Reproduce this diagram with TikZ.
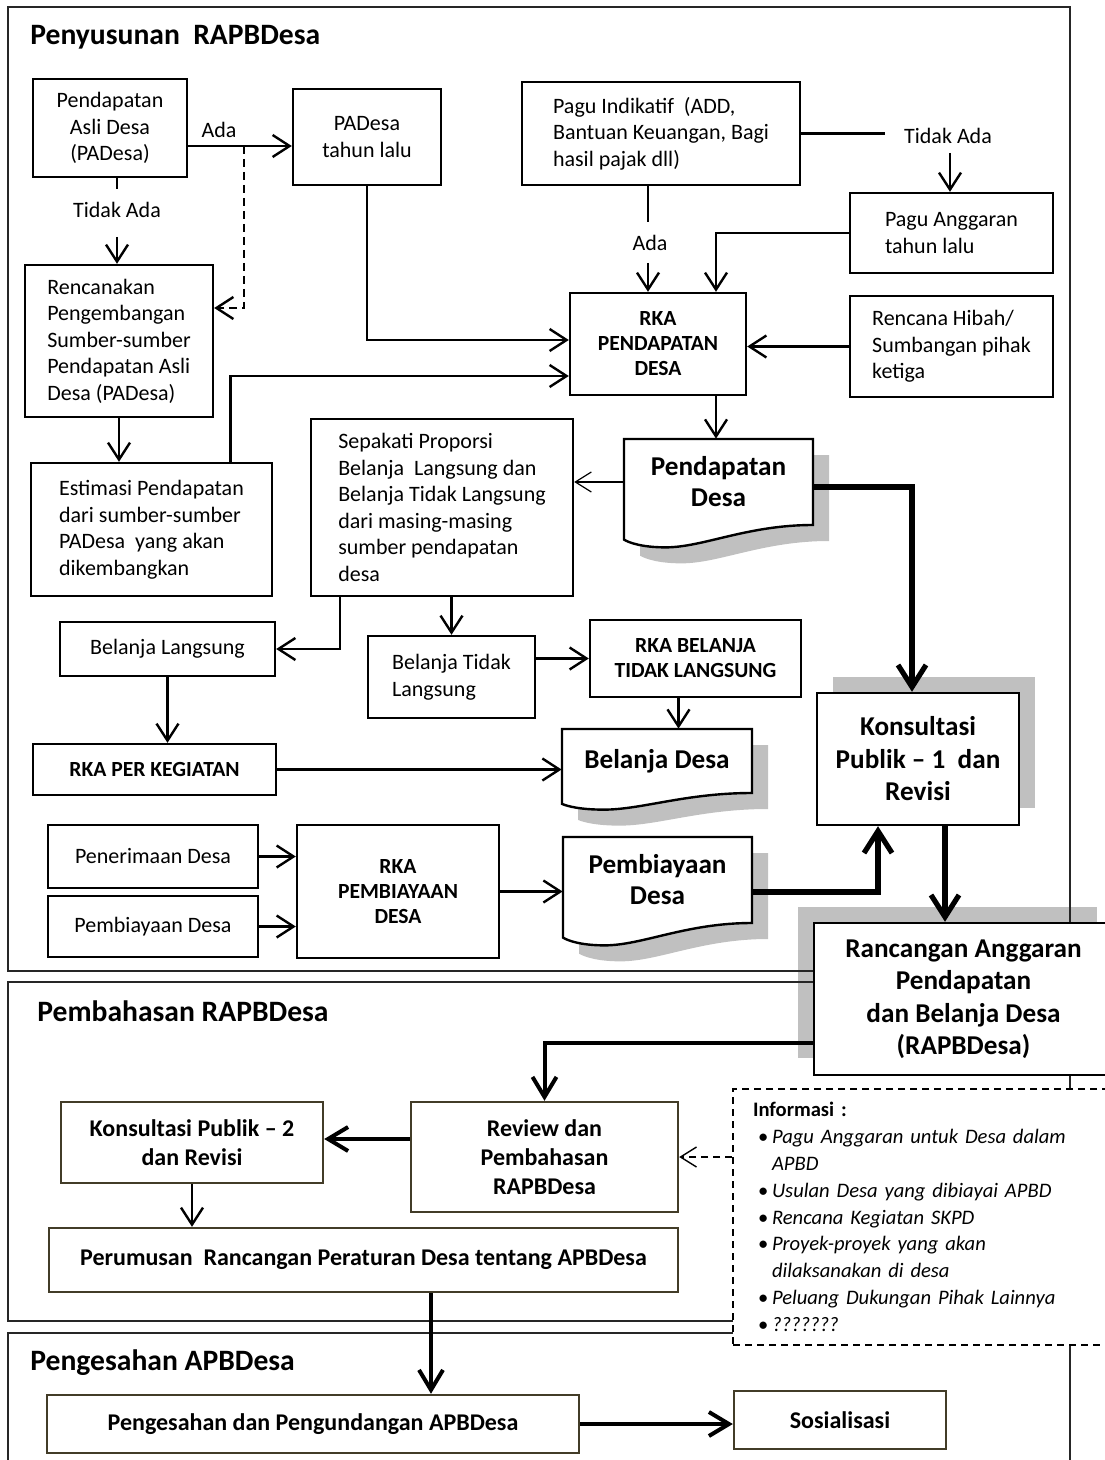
\documentclass[tikz,border=0pt]{standalone}
\usepackage{fontspec}
\setmainfont{Carlito}
\usetikzlibrary{arrows.meta}

\definecolor{shadowgray}{RGB}{192,192,192}
\definecolor{boxolive}{RGB}{66,60,40}

\newcommand\docshape[5]{%
  \path[#1] (#2,#3) -- (#4,#3) -- (#4,#5)
    .. controls ({#4-0.35*(#4-#2)},#5) and ({#2+0.42*(#4-#2)},{#5+0.26*(#5-#3)})
    .. ({#2+0.22*(#4-#2)},{#5+0.26*(#5-#3)})
    .. controls ({#2+0.1*(#4-#2)},{#5+0.26*(#5-#3)}) and ({#2+0.03*(#4-#2)},{#5+0.21*(#5-#3)})
    .. (#2,{#5+0.17*(#5-#3)}) -- cycle;}
\newcommand\infoitem[1]{\hspace*{2.5pt}\makebox[7pt][l]{\textbullet}\textit{#1}}
\newcommand\infomore[1]{\hspace*{9.5pt}\textit{#1}}

\begin{document}
\begin{tikzpicture}[x=0.5pt, y=-0.5pt,
    box/.style={draw, line width=1.2pt, fill=white, inner sep=3pt, align=center,
      font=\fontsize{11}{13.25}\selectfont},
    lbox/.style={box, align=left},
    rka/.style={box, font=\fontsize{10.8}{12.5}\selectfont\bfseries},
    big/.style={box, font=\fontsize{13.6}{16.25}\selectfont\bfseries},
    doc/.style={inner sep=3pt, align=center, font=\fontsize{13.6}{15.5}\selectfont\bfseries},
    stagebox/.style={box, draw=boxolive, font=\fontsize{12}{14.6}\selectfont\bfseries},
    infobox/.style={draw, fill=white, line width=0.8pt, dash pattern=on 3.5pt off 2.5pt,
      text width=175pt, inner xsep=10pt, inner ysep=3pt, minimum height=128pt, align=left,
      font=\fontsize{10.3}{13.4}\selectfont},
    title/.style={anchor=west, inner sep=0pt, font=\fontsize{14.8}{17}\selectfont\bfseries},
    lbl/.style={inner sep=0pt, font=\fontsize{11}{13}\selectfont},
    stage/.style={draw=black!85, line width=1.1pt},
    arr/.style={line width=1.2pt, -{Straight Barb[length=8.5pt,width=11pt]}},
    thinarr/.style={line width=0.6pt, -{Straight Barb[length=8pt,width=10pt]}},
    semi/.style={line width=2pt, -{Straight Barb[length=10pt,width=12pt]}},
    fat/.style={line width=2.6pt, -{Straight Barb[length=11pt,width=14pt]}},
    infoarr/.style={line width=0.7pt, dash pattern=on 3.5pt off 2.5pt, -{Straight Barb[length=8pt,width=10pt]}}
  ]
  \useasboundingbox (0,0) rectangle (1104,1460);

  \fill[shadowgray] (833,677) rectangle (1035,808);
  \fill[shadowgray] (798,907) rectangle (1097,1058);
  \docshape{fill=shadowgray}{640}{455}{829}{541}
  \docshape{fill=shadowgray}{578}{745}{768}{809}
  \docshape{fill=shadowgray}{579}{853}{768}{939}

  \draw[stage] (8,7) rectangle (1070,971);
  \draw[stage] (8,982) rectangle (1070,1321);
  \draw[stage] (8,1333) rectangle (1070,1490);

  \docshape{draw, line width=1.2pt, fill=white}{624}{439}{813}{525}
  \docshape{draw, line width=1.2pt, fill=white}{562}{729}{752}{793}
  \docshape{draw, line width=1.2pt, fill=white}{563}{837}{752}{923}

  \node[title] (t-susun) at (30,37) {Penyusunan\ \ RAPBDesa};
  \node[title] (t-bahas) at (37,1011) {Pembahasan RAPBDesa};
  \node[title] (t-sah) at (30,1363) {Pengesahan APBDesa};

  \node[box, minimum width=77pt, minimum height=49pt] (pad) at (110,128) {Pendapatan\\Asli Desa\\(PADesa)};
  \node[box, minimum width=74pt, minimum height=48pt] (padlalu) at (367,137) {PADesa\\tahun lalu};
  \node[lbox, minimum width=139pt, minimum height=51.5pt] (pagu) at (661,133.5) {Pagu Indikatif\ \ (ADD,\\Bantuan Keuangan, Bagi\\hasil pajak dll)};
  \node[lbox, minimum width=101.5pt, minimum height=40pt] (pagulalu) at (951.5,233) {Pagu Anggaran\\tahun lalu};
  \node[rka, minimum width=88pt, minimum height=51pt] (rkapend) at (658,344) {RKA\\PENDAPATAN\\DESA};
  \node[lbox, minimum width=101.5pt, minimum height=50.5pt] (hibah) at (951.5,346.5) {Rencana Hibah/\\Sumbangan pihak\\ketiga};
  \node[lbox, minimum width=94pt, minimum height=76pt] (rencana) at (119,341) {Rencanakan\\Pengembangan\\Sumber-sumber\\Pendapatan Asli\\Desa (PADesa)};
  \node[lbox, minimum width=120.5pt, minimum height=66.5pt] (estimasi) at (151.5,529.5) {Estimasi Pendapatan\\dari sumber-sumber\\PADesa\ \ yang akan\\dikembangkan};
  \node[lbox, minimum width=131pt, minimum height=88.5pt] (sepakati) at (442,507.5) {Sepakati Proporsi\\Belanja\ \ Langsung dan\\Belanja Tidak Langsung\\dari masing-masing\\sumber pendapatan\\desa};
  \node[doc, minimum width=94.5pt, minimum height=43pt] (penddesa) at (718.5,482) {Pendapatan\\Desa};
  \node[lbox, minimum width=107.5pt, minimum height=27pt] (bl) at (167.5,649) {Belanja Langsung};
  \node[lbox, minimum width=83.5pt, minimum height=41pt] (btl) at (451.5,677) {Belanja Tidak\\Langsung};
  \node[rka, minimum width=105.5pt, minimum height=38.5pt] (rkabtl) at (695.5,658.5) {RKA BELANJA\\TIDAK LANGSUNG};
  \node[rka, minimum width=121.5pt, minimum height=25.5pt] (rkakeg) at (154.5,769.5) {RKA PER KEGIATAN};
  \node[doc, minimum width=95pt, minimum height=32pt] (belanjadesa) at (657,761) {Belanja Desa};
  \node[big, minimum width=101pt, minimum height=66pt] (konsul1) at (918,759) {Konsultasi\\Publik -- 1\ \ dan\\Revisi};
  \node[lbox, minimum width=105pt, minimum height=31.5pt] (penerimaan) at (153,856.5) {Penerimaan Desa};
  \node[lbox, minimum width=105pt, minimum height=30.5pt] (pembdesa) at (153,926.5) {Pembiayaan Desa};
  \node[rka, minimum width=101pt, minimum height=66.5pt] (rkapemb) at (398,891.5) {RKA\\PEMBIAYAAN\\DESA};
  \node[doc, minimum width=94.5pt, minimum height=43pt] (pembiayaan) at (657.5,880) {Pembiayaan\\Desa};
  \node[big, minimum width=149.5pt, minimum height=76pt] (rapb) at (963.5,999) {Rancangan Anggaran\\Pendapatan\\dan Belanja Desa\\(RAPBDesa)};

  \node[stagebox, minimum width=131pt, minimum height=40.5pt] (konsul2) at (192,1142.5) {Konsultasi Publik -- 2\\dan Revisi};
  \node[stagebox, minimum width=133.5pt, minimum height=55pt] (review) at (544.5,1157) {Review dan\\Pembahasan\\RAPBDesa};
  \node[stagebox, minimum width=314.5pt, minimum height=32pt] (perumusan) at (363.5,1260) {Perumusan\ \ Rancangan Peraturan Desa tentang APBDesa};
  \node[infobox] (info) at (928,1217) {\textbf{Informasi :}\\
    \infoitem{Pagu Anggaran untuk Desa dalam}\\
    \infomore{APBD}\\
    \infoitem{Usulan Desa yang dibiayai APBD}\\
    \infoitem{Rencana Kegiatan SKPD}\\
    \infoitem{Proyek-proyek yang akan}\\
    \infomore{dilaksanakan di desa}\\
    \infoitem{Peluang Dukungan Pihak Lainnya}\\
    \infoitem{???????}};
  \node[stagebox, minimum width=266pt, minimum height=29pt] (pengesahan) at (313,1424) {Pengesahan dan Pengundangan APBDesa};
  \node[stagebox, minimum width=106pt, minimum height=29pt] (sosialisasi) at (840,1420) {Sosialisasi};

  \node[lbl] (ada1) at (219,130) {Ada};
  \node[lbl] (tidak1) at (117,210) {Tidak Ada};
  \node[lbl] (tidak2) at (948,136) {Tidak Ada};
  \node[lbl] (ada2) at (650,243) {Ada};

  \coordinate (c-ada) at (244,146);
  \coordinate (ta1-up) at (117,189);
  \coordinate (ta1-dn) at (117,237);
  \coordinate (ta2-end) at (885,132);
  \coordinate (ta2-dn) at (950,153);
  \coordinate (ada2-up) at (648,222);
  \coordinate (ada2-dn) at (648,263);

  \draw[line width=1.2pt] (pad.south -| ta1-up) -- (ta1-up);
  \draw[line width=1.2pt] (pagu.east) -- (pagu.east -| ta2-end);
  \draw[line width=1.2pt] (pagu.south -| ada2-up) -- (ada2-up);
  \draw[arr, dash pattern=on 4pt off 2.5pt] (c-ada) |- ([yshift=16.5pt]rencana.east);

  \path[arr]
    (pad.east |- c-ada) edge (padlalu.west |- c-ada)
    (ta1-dn) edge (rencana.north -| ta1-dn)
    (ta2-dn) edge (pagulalu.north -| ta2-dn)
    (ada2-dn) edge (rkapend.north -| ada2-dn)
    (hibah.west) edge (rkapend.east |- hibah.west)
    (rencana.south) edge (estimasi.north -| rencana.south)
    ([xshift=29pt]rkapend.south) edge ([xshift=29pt]rkapend.south |- penddesa.north)
    (sepakati.south -| btl.north) edge (btl.north)
    (btl.east |- rkabtl.west) edge (rkabtl.west)
    (bl.south) edge (rkakeg.north -| bl.south)
    ([xshift=-8.5pt]rkabtl.south) edge ([xshift=-8.5pt]rkabtl.south |- belanjadesa.north)
    (rkakeg.east) edge (rkakeg.east -| belanjadesa.west)
    (penerimaan.east) edge (penerimaan.east -| rkapemb.west)
    (pembdesa.east) edge (pembdesa.east -| rkapemb.west)
    (rkapemb.east) edge (rkapemb.east -| pembiayaan.west)
    (konsul2.south) edge (perumusan.north -| konsul2.south);
  \draw[arr] (pagulalu.west) -| ([xshift=29pt]rkapend.north);
  \draw[arr] (padlalu.south) |- ([yshift=2pt]rkapend.west);
  \draw[arr] ([xshift=39.5pt]estimasi.north) |- ([yshift=-16pt]rkapend.west);
  \draw[arr] ([xshift=-51pt]sepakati.south) |- (bl.east);
  \draw[thinarr] (penddesa.west) -- (sepakati.east |- penddesa.west);

  \draw[fat] ([yshift=-2.5pt]penddesa.east) -| ([xshift=-3pt]konsul1.north);
  \draw[fat] ([yshift=-6pt]pembiayaan.east) -| ([xshift=-20pt]konsul1.south);
  \draw[fat] ([xshift=13.5pt]konsul1.south) -- ([xshift=13.5pt]konsul1.south |- rapb.north);
  \draw[semi] ([yshift=-22pt]rapb.west) -| (review.north);
  \draw[semi] ([yshift=9pt]review.west) -- ([yshift=9pt]review.west -| konsul2.east);
  \draw[infoarr] (info.west |- review.east) -- (review.east);
  \draw[semi] ([xshift=33.75pt]perumusan.south) -- ([xshift=33.75pt]perumusan.south |- pengesahan.north);
  \draw[semi] (pengesahan.east) -- (pengesahan.east -| sosialisasi.west);
\end{tikzpicture}
\end{document}
